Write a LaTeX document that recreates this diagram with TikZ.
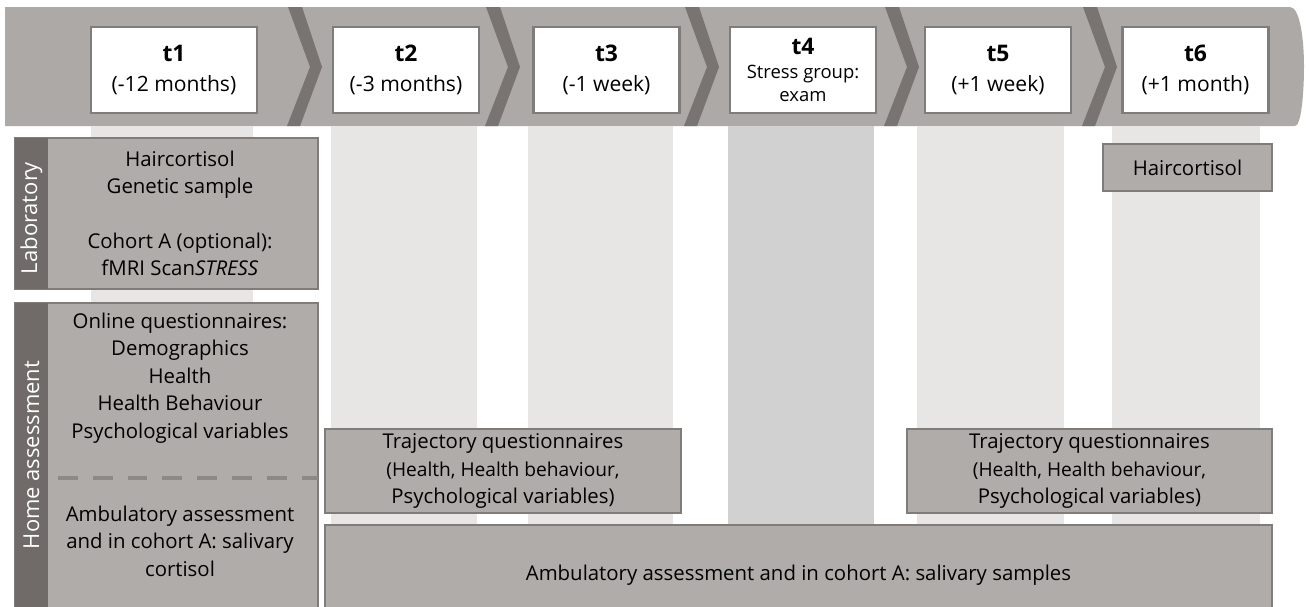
\documentclass[tikz,border=0pt]{standalone}
\usepackage{fontspec}
\setmainfont{Open Sans}
\usepackage{tikz}
\usetikzlibrary{positioning}
\usepackage{xcolor}
\definecolor{bandgray}{RGB}{173,169,166}
\definecolor{chevgray}{RGB}{121,116,113}
\definecolor{boxgray}{RGB}{176,172,169}
\definecolor{framegray}{RGB}{128,124,121}
\definecolor{stripgray}{RGB}{112,107,104}
\definecolor{colgray}{RGB}{232,229,229}
\definecolor{examgray}{RGB}{209,209,209}
\newcommand{\tpname}[1]{{\fontsize{13}{17}\selectfont\bfseries #1}}

\begin{document}
\begin{tikzpicture}[x=0.02cm, y=-0.02cm, font=\fontsize{11.6}{15.6}\selectfont]
      % Styles
      \tikzset{timebox/.style={draw=framegray, line width=1.2pt, fill=white, minimum width=2.92cm, minimum height=1.72cm, align=center, inner sep=0pt, font=\fontsize{12}{17}\selectfont}}
      \tikzset{greybox/.style={draw=framegray, line width=0.9pt, fill=boxgray, align=center, inner sep=0pt}}
      \tikzset{sidelabel/.style={rotate=90, text=white, inner sep=0pt, font=\fontsize{12.5}{15}\selectfont}}
      \tikzset{boxtext/.style={align=center, inner sep=0pt}}

      \useasboundingbox (0,0) rectangle (1309,606);
      \clip (0,0) rectangle (1309,606);

      % --- Banner with chevrons ---
      \fill[bandgray] (5,7) -- (1290,7) .. controls (1300,7) and (1304,40) .. (1304,66)
        .. controls (1304,95) and (1301,126) .. (1295,126) -- (5,126) -- cycle;
      \foreach \cx in {288,486,685,885,1083}
        \fill[chevgray] (\cx,7) -- ++(14,0) -- ++(20,60) -- ++(-22,59) -- ++(-13,0) -- ++(23,-59) -- cycle;

      % --- Columns below the time points ---
      \fill[colgray] (91,126) rectangle (253,606);
      \foreach \l/\r in {331/477, 528/673, 917/1064, 1112/1260}
        \fill[colgray] (\l,126) rectangle (\r,525);
      \fill[examgray] (728,126) rectangle (874,525);

      % --- Time points ---
      \node[timebox, minimum width=3.32cm] (t1) at (174,70) {\tpname{t1}\\(-12 months)};
      \node[timebox] (t2) at (406,70) {\tpname{t2}\\(-3 months)};
      \node[timebox] (t3) at (606.5,70) {\tpname{t3}\\(-1 week)};
      \node[timebox, font=\fontsize{10.5}{13.5}\selectfont] (t4) at (803,70) {\tpname{t4}\\Stress group:\\exam};
      \node[timebox] (t5) at (998,70) {\tpname{t5}\\(+1 week)};
      \node[timebox] (t6) at (1195.5,70) {\tpname{t6}\\(+1 month)};

      % --- Laboratory ---
      \node[greybox, minimum width=6.06cm, minimum height=3.02cm] (labbox) at (166.5,213.5) {};
      \fill[stripgray] (15,138) rectangle (48,289);
      \node[sidelabel] (lablabel) at (31.5,218) {Laboratory};
      \node[boxtext] (labtext) at (180,213.5) {Haircortisol\\Genetic sample\\[15.6pt]Cohort A (optional):\\fMRI Scan\textit{STRESS}};
      \node[greybox, minimum width=3.38cm, minimum height=0.94cm] (hair6) at (1187.5,167.5) {Haircortisol};

      % --- Home assessment ---
      \node[greybox, minimum width=6.06cm, minimum height=6.44cm] (homebox) at (166.5,464) {};
      \fill[stripgray] (15,303) rectangle (48,625);
      \node[sidelabel] (homelabel) at (31.5,455) {Home assessment};
      \node[boxtext] (onlinetext) at (180,378) {Online questionnaires:\\Demographics\\Health\\Health Behaviour\\Psychological variables};
      \draw[framegray!90, line width=2.2pt, dash pattern=on 11.3pt off 8.5pt] (58,478) -- (318,478);
      \node[boxtext] (ambutext) at (180,541) {Ambulatory assessment\\and in cohort A: salivary\\cortisol};

      % --- Trajectory questionnaires and ambulatory samples ---
      \node[greybox, minimum width=7.12cm, minimum height=1.68cm] (traj1) at (503,471)
        {Trajectory questionnaires\\\fontsize{10.9}{14.2}\selectfont(Health, Health behaviour,\\Psychological variables)};
      \node[greybox, minimum width=7.3cm, minimum height=1.68cm] (traj2) at (1089.5,471)
        {Trajectory questionnaires\\\fontsize{10.9}{14.2}\selectfont(Health, Health behaviour,\\Psychological variables)};
      \node[greybox, minimum width=18.94cm, minimum height=2cm] (ambu) at (798.5,575)
        {Ambulatory assessment and in cohort A: salivary samples};

    \end{tikzpicture}
\end{document}
